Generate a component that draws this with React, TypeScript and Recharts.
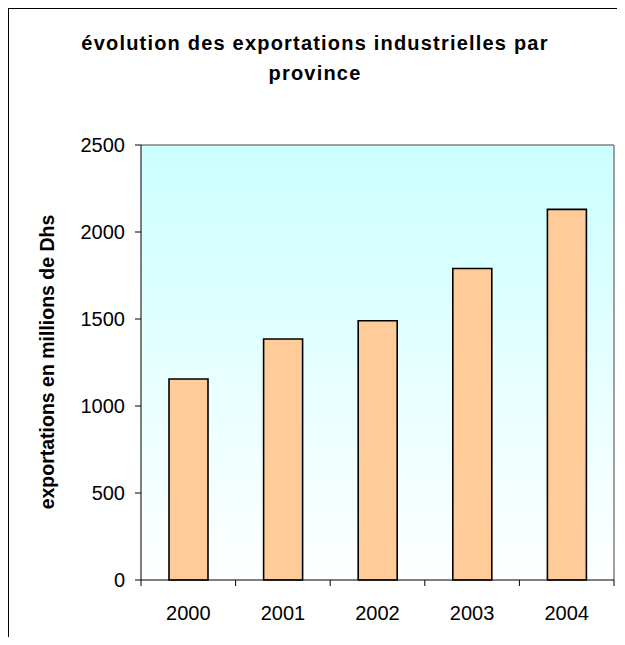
import React from 'react';
import { BarChart, Bar, XAxis, YAxis, CartesianGrid } from 'recharts';

const years = ['2000', '2001', '2002', '2003', '2004'];
const exportations = [1155, 1385, 1490, 1790, 2130];
const yTicks = [0, 500, 1000, 1500, 2000, 2500];

const titleLines = ['évolution des exportations industrielles par', 'province'];
const yLabel = 'exportations en millions de Dhs';

const data = years.map((year, i) => ({ year, value: exportations[i] }));

const FONT = '"Liberation Sans", Arial, sans-serif';

// category label plus Excel-style ticks on the category boundaries
const YearTick = (props: any) => {
  const { x, y, payload, index, width, visibleTicksCount } = props;
  const half = payload && payload.offset ? payload.offset : width / visibleTicksCount / 2;
  const isLast = index === visibleTicksCount - 1;
  return (
    <g>
      <line x1={x - half} x2={x - half} y1={y - 16} y2={y - 10} stroke="#000" />
      {isLast && <line x1={x + half} x2={x + half} y1={y - 16} y2={y - 10} stroke="#000" />}
      <text x={x} y={y} dy={24} textAnchor="middle" fill="#000" fontSize={20} fontFamily={FONT}>
        {payload.value}
      </text>
    </g>
  );
};

export default function App() {
  return (
    <div
      style={{
        position: 'relative',
        width: 609,
        height: 637,
        marginBottom: -8,
        boxSizing: 'border-box',
        borderLeft: '1px solid #000',
        borderTop: '1px solid #000',
        background: '#fff',
        fontFamily: FONT,
      }}
    >
      {titleLines.map((line, i) => (
        <div
          key={line}
          style={{
            position: 'absolute',
            left: 0,
            width: 612,
            top: 34 + i * 30,
            transform: 'translateY(-50%)',
            textAlign: 'center',
            fontSize: 20,
            fontWeight: 'bold',
            letterSpacing: 1.2,
            whiteSpace: 'nowrap',
            color: '#000',
          }}
        >
          {line}
        </div>
      ))}
      <div
        style={{
          position: 'absolute',
          left: 38,
          top: 353,
          transform: 'translate(-50%, -50%) rotate(-90deg)',
          fontSize: 19.5,
          fontWeight: 'bold',
          whiteSpace: 'nowrap',
          color: '#000',
        }}
      >
        {yLabel}
      </div>
      <div style={{ position: 'absolute', left: 0, top: 0 }}>
        <BarChart
          width={608}
          height={628}
          data={data}
          margin={{ top: 136, right: 3, left: 0, bottom: 0 }}
        >
          <defs>
            <linearGradient id="plotBg" x1="0" y1="0" x2="0" y2="1">
              <stop offset="0%" stopColor="#CCFFFF" />
              <stop offset="100%" stopColor="#FFFFFF" />
            </linearGradient>
          </defs>
          <CartesianGrid
            fill="url(#plotBg)"
            fillOpacity={1}
            stroke="#808080"
            strokeWidth={1.5}
            horizontalCoordinatesGenerator={({ offset }: any) => [offset.top]}
            verticalCoordinatesGenerator={({ offset }: any) => [offset.left + offset.width]}
          />
          <XAxis
            dataKey="year"
            height={57}
            stroke="#000"
            tickLine={false}
            tickSize={6}
            tickMargin={10}
            interval={0}
            tick={<YearTick />}
          />
          <YAxis
            width={132}
            domain={[0, 2500]}
            ticks={yTicks}
            stroke="#000"
            tickSize={6}
            tickMargin={10}
            tick={{ fill: '#000', fontSize: 20, fontFamily: FONT }}
          />
          <Bar
            dataKey="value"
            fill="#FFCC99"
            stroke="#000"
            strokeWidth={1.6}
            barSize={39}
            isAnimationActive={false}
          />
        </BarChart>
      </div>
    </div>
  );
}
